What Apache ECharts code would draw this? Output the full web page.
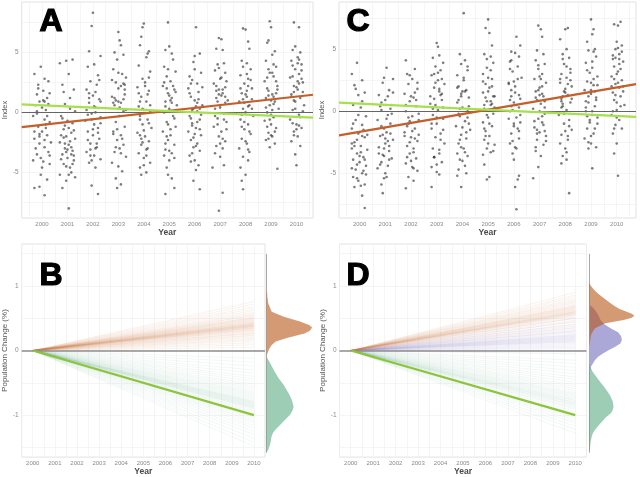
<!DOCTYPE html>
<html>
<head>
<meta charset="utf-8">
<script src="https://cdn.jsdelivr.net/npm/echarts@6/dist/echarts.min.js"></script>
</head>
<body style="margin:0;background:#fff">
<div id="main" style="width:640px;height:477px"></div>
<script>
// ---- data ----
var yearTicks = [2000, 2001, 2002, 2003, 2004, 2005, 2006, 2007, 2008, 2009, 2010];
var yearGrid = [1999.5, 2000, 2000.5, 2001, 2001.5, 2002, 2002.5, 2003, 2003.5, 2004, 2004.5, 2005, 2005.5,
  2006, 2006.5, 2007, 2007.5, 2008, 2008.5, 2009, 2009.5, 2010, 2010.5];
var indexTicks = [-5, 0, 5];
var indexGrid = [-7.5, -5, -2.5, 0, 2.5, 5, 7.5];
var popTicks = [-1, 0, 1];
var popGrid = [-1.5, -1, -0.5, 0, 0.5, 1, 1.5];

// panel A : jittered index values [year, index]
var scatterA = [
  [1999.7,3.2],[1999.85,2.3],[2000.1,2.8],[2000.25,2.6],[1999.95,3.8],[1999.8,1.5],[2000.05,1.8],[2000.2,1.2],[1999.9,0.9],[2000.0,0.4],[2000.15,0.2],[1999.75,0.6],[2000.3,1.6],[1999.65,-0.3],[2000.1,-0.6],[2000.3,-0.8],[1999.85,-1.2],[2000.0,-1.6],[2000.2,-1.9],[1999.7,-2.2],[1999.9,-2.6],[2000.1,-2.9],[2000.25,-3.3],[1999.8,-3.5],[1999.65,-4.0],[2000.05,-4.1],[2000.3,-4.3],[1999.95,-5.2],[2000.2,-5.6],[1999.7,-6.3],[1999.9,-6.2],[2000.1,-6.9],[2000.15,-1.3],[1999.8,-0.1],[2000.35,-2.5],
  [1999.8,0.1],[2000.05,1.0],[2000.2,-0.3],[1999.9,-1.8],[2000.1,-2.3],[1999.75,-3.0],[2000.25,0.7],[1999.95,-3.8],[2000.15,-1.0],[1999.85,2.0],[2000.0,-4.6],[1999.7,-1.6],[2000.3,-3.6],[2000.1,0.9],[1999.9,-2.0],
  [2000.7,4.1],[2000.95,4.3],[2001.2,4.4],[2001.05,3.2],[2000.8,2.3],[2001.25,1.9],[2001.1,1.2],[2000.9,0.7],[2001.3,0.1],[2000.75,-0.3],[2001.0,-0.7],[2001.2,-0.9],[2000.85,-1.4],[2001.15,-1.7],[2000.95,-2.0],[2001.3,-2.2],[2000.7,-2.5],[2001.05,-2.7],[2000.9,-3.0],[2001.2,-3.2],[2000.8,-3.5],[2001.0,-3.8],[2001.25,-4.0],[2000.85,-4.3],[2001.1,-4.6],[2000.7,-5.2],[2001.15,-5.0],[2000.95,-5.7],[2001.3,-5.4],[2000.8,-6.3],[2001.05,-8.0],[2001.1,-2.4],[2000.9,-1.1],[2001.25,-3.6],[2000.75,-1.9],
  [2000.85,-2.1],[2001.15,-2.9],[2000.95,-3.3],[2001.05,-1.3],[2000.75,-3.9],[2001.2,-4.3],[2000.9,-2.6],[2001.1,0.3],[2000.8,-0.5],[2001.0,-3.1],[2001.25,-1.5],[2000.95,-4.5],[2001.15,-3.5],[2000.85,1.7],[2001.05,-5.2],
  [2002.0,8.3],[2001.95,7.2],[2001.85,5.1],[2002.3,4.7],[2001.8,3.8],[2002.05,4.0],[2002.2,3.1],[2001.9,2.6],[2002.15,2.3],[2001.75,1.9],[2002.0,1.4],[2002.25,1.1],[2001.85,0.8],[2002.1,0.4],[2001.95,-0.1],[2002.3,-0.4],[2001.7,-0.7],[2002.05,-1.0],[2002.2,-1.3],[2001.8,-1.6],[2002.0,-1.9],[2002.25,-2.2],[2001.9,-2.6],[2002.15,-2.9],[2001.75,-3.3],[2002.05,-3.6],[2002.3,-3.9],[2001.85,-4.2],[2002.1,-4.6],[2001.95,-6.1],[2002.2,-6.8],[2002.1,1.7],[2001.8,-0.2],[2002.3,0.9],[2001.9,-3.1],
  [2001.85,1.2],[2002.05,0.5],[2001.95,-0.6],[2002.2,-1.7],[2001.8,-2.3],[2002.1,-3.0],[2001.9,-3.6],[2002.25,2.7],[2001.75,0.2],[2002.0,-1.4],[2002.15,-2.6],[2001.85,1.6],[2002.3,-0.9],[2001.95,-4.0],[2002.1,0.0],
  [2003.0,6.7],[2003.05,6.0],[2003.1,5.6],[2002.85,5.0],[2003.2,4.8],[2002.95,4.4],[2002.8,3.6],[2003.15,3.2],[2003.3,2.9],[2002.9,2.5],[2003.1,2.2],[2003.25,1.9],[2002.75,1.3],[2003.0,0.9],[2003.2,1.1],[2002.85,0.6],[2003.3,0.2],[2003.05,-0.3],[2002.9,-0.8],[2003.25,-1.2],[2002.8,-1.6],[2003.1,-1.9],[2002.95,-2.3],[2003.2,-2.7],[2003.05,-3.0],[2002.85,-3.3],[2003.3,-3.7],[2002.75,-4.2],[2003.0,-4.5],[2003.15,-4.9],[2002.9,-5.5],[2003.1,-6.0],[2002.95,-6.3],[2003.25,2.3],[2002.8,0.8],
  [2002.9,1.0],[2003.1,0.8],[2002.85,1.2],[2003.2,2.4],[2003.0,2.0],[2002.8,-1.8],[2003.15,-2.2],[2002.95,-1.4],[2003.25,1.5],[2003.05,0.4],[2002.75,2.7],[2003.1,-3.4],[2002.9,-2.9],[2003.2,0.1],[2003.0,3.3],
  [2004.0,7.4],[2003.95,7.1],[2003.9,6.3],[2003.85,5.6],[2004.2,5.1],[2004.15,4.9],[2004.1,4.6],[2003.8,3.9],[2004.25,3.4],[2003.95,2.8],[2004.05,2.5],[2003.75,2.1],[2004.2,1.8],[2003.9,1.3],[2004.1,0.9],[2003.8,0.5],[2004.0,0.2],[2004.25,0.1],[2003.85,-0.3],[2004.15,-0.6],[2003.95,-1.0],[2004.3,-1.3],[2003.75,-1.7],[2004.05,-2.0],[2004.2,-2.4],[2003.9,-2.7],[2004.1,-3.1],[2003.8,-3.4],[2004.0,-3.8],[2004.25,-4.2],[2003.85,-4.6],[2004.1,-5.0],[2003.9,-5.2],[2004.15,1.5],[2003.85,-1.9],
  [2003.95,0.3],[2004.1,0.2],[2003.85,0.9],[2004.2,-0.9],[2004.0,-1.5],[2003.9,-2.2],[2004.15,-3.0],[2003.8,1.6],[2004.05,2.2],[2004.25,0.6],[2003.95,-2.5],[2004.1,-3.6],[2003.85,-0.6],[2004.2,2.9],[2004.0,-4.4],
  [2004.95,7.5],[2005.0,5.5],[2004.85,5.2],[2005.1,4.9],[2005.15,4.4],[2004.8,3.8],[2005.25,3.4],[2004.9,3.0],[2005.05,2.6],[2004.75,2.2],[2005.2,1.9],[2004.95,1.6],[2005.1,1.2],[2004.85,0.9],[2005.3,0.6],[2005.0,0.3],[2004.8,0.0],[2005.15,-0.3],[2004.9,-0.8],[2005.25,-1.2],[2004.75,-1.6],[2005.05,-1.9],[2004.95,-2.3],[2005.2,-2.7],[2004.85,-3.1],[2005.1,-3.4],[2004.8,-3.6],[2005.0,-4.0],[2004.9,-4.6],[2004.95,-5.2],[2005.1,-5.5],[2004.85,-6.8],[2005.2,-6.3],[2005.05,1.0],[2004.9,2.0],
  [2005.0,1.4],[2004.85,0.5],[2005.1,0.8],[2005.2,-0.5],[2004.95,-1.0],[2005.05,-1.4],[2004.8,2.5],[2005.15,2.2],[2004.9,-2.0],[2005.25,1.7],[2005.0,-3.2],[2004.85,-2.6],[2005.1,0.1],[2004.95,3.6],[2005.2,-3.8],
  [2006.05,7.1],[2006.0,4.7],[2006.2,4.9],[2005.95,4.2],[2005.8,3.0],[2006.25,3.3],[2005.9,2.7],[2006.1,2.4],[2005.75,2.0],[2006.15,1.7],[2005.85,1.3],[2006.0,1.0],[2006.3,0.6],[2005.95,0.3],[2006.1,0.1],[2005.8,-0.3],[2006.2,-0.6],[2005.9,-0.9],[2006.05,-1.3],[2005.75,-1.6],[2006.25,-1.9],[2005.85,-2.3],[2006.1,-2.6],[2005.95,-2.9],[2006.2,-3.2],[2005.8,-3.6],[2006.0,-4.0],[2006.15,-4.4],[2005.85,-4.1],[2006.05,-4.8],[2005.95,-5.7],[2006.2,-6.4],[2006.1,0.8],[2005.9,-1.1],[2006.3,2.1],
  [2005.9,0.2],[2006.05,0.5],[2006.2,0.3],[2005.85,-0.5],[2006.1,-0.8],[2006.0,-1.8],[2005.8,1.6],[2006.15,1.1],[2005.95,-2.1],[2006.25,-0.2],[2006.05,-2.8],[2005.85,2.4],[2006.2,-1.4],[2005.9,-3.4],[2006.0,3.6],
  [2006.95,6.2],[2007.05,6.1],[2006.85,5.3],[2007.1,5.2],[2006.9,4.0],[2007.15,4.1],[2006.8,3.5],[2007.2,3.3],[2007.0,2.8],[2006.75,2.4],[2007.25,2.6],[2006.95,1.9],[2007.1,1.6],[2006.85,1.2],[2007.3,1.0],[2007.0,0.6],[2006.8,0.3],[2007.15,-0.1],[2006.9,-0.5],[2007.25,-0.8],[2006.75,-1.2],[2007.05,-1.6],[2006.95,-2.0],[2007.2,-2.4],[2006.85,-2.8],[2007.1,-3.0],[2006.8,-3.4],[2007.0,-3.7],[2007.15,-4.4],[2006.7,-4.6],[2007.1,-6.7],[2006.95,-8.2],[2007.05,1.4],[2006.9,0.9],[2007.2,2.1],
  [2006.95,1.5],[2007.1,1.9],[2006.85,2.2],[2007.2,0.8],[2007.0,0.4],[2006.8,-0.3],[2007.15,-0.6],[2006.9,-1.0],[2007.05,2.9],[2007.25,-1.4],[2006.95,3.7],[2007.1,-2.2],[2006.85,1.8],[2007.0,-2.6],[2007.2,1.3],
  [2008.0,6.9],[2007.9,7.0],[2008.1,5.9],[2008.15,5.3],[2007.85,4.3],[2008.05,4.1],[2008.2,3.6],[2007.8,3.1],[2008.1,2.8],[2007.95,2.4],[2008.25,2.0],[2007.85,1.6],[2008.05,1.3],[2007.75,0.9],[2008.15,0.6],[2007.9,0.3],[2008.0,0.0],[2008.3,-0.3],[2007.8,-0.6],[2008.1,-1.0],[2007.95,-1.4],[2008.2,-1.8],[2007.85,-2.2],[2008.05,-2.6],[2007.75,-3.0],[2008.15,-3.3],[2007.9,-3.7],[2008.1,-4.0],[2007.8,-4.6],[2008.0,-5.2],[2007.85,-5.7],[2007.9,-6.4],[2008.25,1.1],[2007.95,0.8],[2008.1,2.2],
  [2008.0,1.5],[2007.9,1.1],[2008.1,0.5],[2007.85,-0.2],[2008.2,2.7],[2008.05,3.2],[2007.95,-0.8],[2008.15,-1.6],[2007.8,2.0],[2008.0,-2.4],[2008.25,0.3],[2007.9,3.8],[2008.1,-3.1],[2007.85,-1.2],[2008.05,1.8],
  [2008.95,7.6],[2009.0,7.1],[2008.9,6.0],[2008.85,5.8],[2009.15,5.1],[2009.05,4.8],[2008.8,4.3],[2009.2,3.8],[2008.95,3.3],[2009.1,3.0],[2008.75,2.6],[2009.25,2.2],[2008.9,1.8],[2009.05,1.5],[2008.8,1.2],[2009.15,0.9],[2008.95,0.6],[2009.3,0.3],[2008.85,0.0],[2009.1,-0.4],[2008.75,-0.7],[2009.0,-1.0],[2009.2,-1.3],[2008.9,-1.7],[2009.05,-2.0],[2008.8,-2.3],[2009.15,-2.6],[2008.95,-2.9],[2009.25,-4.7],[2009.1,1.3],[2008.85,2.9],[2009.0,-0.2],[2009.2,1.6],[2008.9,3.6],
  [2009.0,1.0],[2008.9,1.4],[2009.1,0.7],[2008.85,2.0],[2009.2,2.6],[2009.05,3.3],[2008.95,-0.6],[2009.15,-1.6],[2008.8,0.4],[2009.0,-1.9],[2009.25,1.9],[2008.9,-2.2],[2009.1,4.0],[2008.85,-1.2],[2009.05,0.2],
  [2009.9,7.5],[2010.1,7.1],[2009.95,5.5],[2009.85,5.2],[2010.15,5.0],[2010.05,4.6],[2009.8,4.3],[2010.2,4.0],[2009.95,3.6],[2010.1,3.2],[2009.75,2.9],[2010.25,2.5],[2009.9,2.2],[2010.05,1.9],[2009.8,1.5],[2010.15,1.2],[2009.95,0.9],[2010.3,0.6],[2009.85,0.2],[2010.1,-0.2],[2009.75,-0.6],[2010.0,-1.0],[2010.2,-1.3],[2009.9,-1.6],[2010.05,-2.0],[2009.8,-2.4],[2010.15,-2.8],[2009.95,-3.5],[2010.0,-4.4],[2010.2,2.8],[2009.9,1.0],[2010.1,-1.1],[2009.85,3.9],[2010.25,1.7],
  [2010.0,2.1],[2009.9,1.7],[2010.1,2.4],[2009.85,3.0],[2010.2,3.5],[2010.05,4.1],[2009.95,0.3],[2010.15,-0.4],[2009.8,1.3],[2010.0,-1.4],[2010.25,0.1],[2009.9,-1.9],[2010.1,4.4],[2009.85,-0.9],[2010.05,2.6]
];

// panel C
var scatterC = [
  [1999.7,3.0],[1999.9,3.9],[2000.1,2.5],[1999.8,2.1],[2000.2,1.5],[1999.95,1.3],[1999.75,0.5],[2000.05,0.3],[2000.25,-0.4],[1999.85,-0.7],[2000.1,-1.1],[1999.7,-1.4],[1999.95,-1.8],[2000.2,-2.1],[1999.8,-2.5],[2000.05,-2.8],[1999.7,-3.0],[2000.3,-3.1],[1999.9,-3.4],[2000.15,-3.7],[1999.75,-3.9],[2000.0,-4.1],[2000.25,-4.4],[1999.85,-4.7],[2000.1,-5.0],[1999.75,-5.3],[1999.95,-5.6],[2000.2,-5.9],[1999.8,-6.1],[2000.05,-6.0],[2000.1,-6.8],[2000.2,-7.8],[1999.9,-2.3],[2000.15,-1.5],[1999.7,-4.6],
  [1999.8,-2.8],[2000.05,-3.3],[2000.2,-3.9],[1999.9,-4.3],[2000.1,-2.0],[1999.75,-1.0],[2000.25,-5.1],[1999.95,-0.3],[2000.15,-4.8],[1999.85,1.8],[2000.0,-3.6],[1999.7,-2.6],[2000.3,-1.9],[2000.1,0.8],[1999.9,-5.4],
  [2001.05,3.5],[2001.3,2.6],[2000.9,2.3],[2001.15,1.7],[2000.75,1.3],[2001.0,0.9],[2001.25,0.5],[2000.85,0.1],[2001.1,-0.3],[2000.7,-0.7],[2001.2,-1.0],[2000.95,-1.4],[2001.05,-1.7],[2000.8,-2.0],[2001.3,-2.3],[2001.0,-2.6],[2000.75,-2.9],[2001.15,-3.2],[2000.9,-3.5],[2001.25,-3.8],[2000.85,-4.1],[2001.1,-4.4],[2000.7,-4.6],[2001.0,-5.0],[2000.95,-5.4],[2000.85,-5.9],[2000.9,-6.6],[2001.2,-1.8],[2000.8,0.4],[2001.1,-2.4],[2000.95,-3.6],[2001.3,1.5],
  [2000.85,-1.2],[2001.15,-2.8],[2000.95,-3.0],[2001.05,-0.6],[2000.75,-3.4],[2001.2,0.2],[2000.9,-1.9],[2001.1,1.2],[2000.8,-4.3],[2001.0,-2.2],[2001.25,-0.2],[2000.95,2.7],[2001.15,-3.9],[2000.85,0.7],[2001.05,-5.3],
  [2001.8,4.1],[2001.85,3.0],[2002.15,3.4],[2002.05,2.6],[2001.9,2.2],[2002.25,1.8],[2001.75,1.4],[2002.1,1.1],[2001.95,0.8],[2002.2,0.4],[2001.8,0.0],[2002.05,-0.4],[2002.3,-0.7],[2001.9,-1.0],[2002.15,-1.4],[2001.75,-1.7],[2002.0,-2.1],[2002.25,-2.4],[2001.85,-2.8],[2002.1,-3.0],[2001.95,-3.4],[2002.2,-3.8],[2001.8,-4.2],[2002.05,-4.5],[2002.25,-4.8],[2001.9,-5.3],[2002.1,-5.6],[2001.8,-6.2],[2002.15,-2.2],[2001.95,-0.8],[2002.3,-1.9],[2002.0,1.2],
  [2001.85,-1.2],[2002.05,-1.6],[2001.95,-2.5],[2002.2,0.9],[2001.8,0.5],[2002.1,-3.3],[2001.9,-0.5],[2002.25,2.3],[2001.75,-2.0],[2002.0,-4.0],[2002.15,1.5],[2001.85,-3.7],[2002.3,-0.2],[2001.95,2.9],[2002.1,-4.6],
  [2003.0,5.5],[2003.05,5.2],[2003.1,4.5],[2002.85,4.3],[2003.25,3.9],[2002.95,3.6],[2003.15,3.3],[2002.8,2.9],[2003.05,2.5],[2003.3,2.2],[2002.9,1.9],[2003.1,1.6],[2002.75,1.2],[2003.2,0.9],[2002.95,0.5],[2003.05,0.1],[2002.85,-0.3],[2003.25,-0.6],[2003.0,-1.0],[2002.8,-1.4],[2003.15,-1.8],[2002.95,-2.1],[2003.3,-2.6],[2002.85,-3.0],[2003.1,-3.4],[2002.9,-3.7],[2003.2,-4.1],[2002.8,-4.5],[2003.0,-4.9],[2003.1,-5.1],[2002.8,-6.1],[2003.15,1.3],[2002.9,3.0],[2003.25,0.3],
  [2002.9,1.0],[2003.1,1.8],[2002.85,0.2],[2003.2,2.6],[2003.0,-0.5],[2002.8,-1.0],[2003.15,-2.3],[2002.95,2.3],[2003.25,-1.5],[2003.05,3.1],[2002.75,0.6],[2003.1,-3.1],[2002.9,-3.7],[2003.2,1.4],[2003.0,-4.3],
  [2004.05,7.9],[2003.9,4.6],[2004.1,4.1],[2003.95,3.8],[2004.2,3.3],[2003.8,2.9],[2004.05,2.5],[2003.85,2.0],[2004.15,1.7],[2003.95,1.4],[2004.25,1.1],[2003.8,0.7],[2004.0,0.3],[2004.2,0.0],[2003.9,-0.4],[2004.1,-0.8],[2003.75,-1.2],[2004.3,-1.5],[2003.95,-1.9],[2004.15,-2.2],[2003.85,-2.6],[2004.05,-3.0],[2003.8,-3.4],[2004.2,-3.6],[2003.9,-3.9],[2004.1,-4.4],[2003.85,-4.7],[2004.15,-5.0],[2003.8,-5.2],[2003.95,-6.1],[2004.0,1.6],[2004.25,-1.0],[2003.9,0.2],
  [2003.95,1.2],[2004.1,1.6],[2003.85,0.9],[2004.2,-0.5],[2004.0,-1.3],[2003.9,-2.3],[2004.15,-1.7],[2003.8,1.9],[2004.05,2.7],[2004.25,0.4],[2003.95,-2.9],[2004.1,-3.3],[2003.85,-0.2],[2004.2,3.6],[2004.0,-4.0],
  [2005.0,7.4],[2004.9,6.7],[2005.05,6.3],[2005.15,5.3],[2004.85,4.6],[2005.1,4.4],[2005.2,3.9],[2004.95,3.5],[2004.8,3.0],[2005.15,2.6],[2004.9,2.2],[2005.05,1.9],[2004.8,1.5],[2005.25,1.2],[2004.95,0.8],[2005.1,0.5],[2004.85,0.2],[2005.2,-0.2],[2005.0,-0.5],[2004.8,-0.9],[2005.15,-1.2],[2004.9,-1.6],[2005.05,-2.0],[2004.85,-2.3],[2005.25,-2.7],[2004.95,-3.0],[2005.1,-3.3],[2004.8,-3.5],[2004.85,-4.3],[2005.05,-5.3],[2004.95,-5.5],[2005.15,0.6],[2004.9,1.1],[2005.0,2.7],
  [2005.0,1.6],[2004.85,0.5],[2005.1,0.8],[2005.2,1.2],[2004.95,-0.3],[2005.05,-1.0],[2004.8,2.4],[2005.15,2.0],[2004.9,-2.0],[2005.25,0.3],[2005.0,-2.6],[2004.85,-1.4],[2005.1,3.3],[2004.95,4.2],[2005.2,-3.2],
  [2006.1,6.0],[2006.25,5.3],[2005.9,4.8],[2006.05,4.7],[2006.2,4.4],[2005.85,4.0],[2006.15,3.6],[2005.95,3.2],[2006.3,2.7],[2005.8,2.3],[2006.05,2.0],[2005.9,1.7],[2006.2,1.3],[2005.85,0.9],[2006.1,0.5],[2005.95,0.1],[2006.25,-0.3],[2005.8,-0.6],[2006.0,-1.0],[2006.15,-1.4],[2005.9,-1.8],[2006.2,-2.2],[2005.85,-2.6],[2006.1,-3.0],[2005.95,-3.4],[2006.0,-3.9],[2006.2,-5.2],[2006.15,-5.5],[2006.05,-6.1],[2006.1,-7.9],[2005.9,0.4],[2006.25,1.0],[2006.0,2.4],
  [2005.9,1.2],[2006.05,1.5],[2006.2,0.3],[2005.85,0.0],[2006.1,-0.5],[2006.0,-1.2],[2005.8,2.2],[2006.15,2.6],[2005.95,-2.4],[2006.25,-0.9],[2006.05,-2.9],[2005.85,3.4],[2006.2,-1.6],[2005.9,4.1],[2006.0,0.7],
  [2006.95,6.9],[2007.05,6.6],[2007.1,6.0],[2006.9,4.9],[2007.15,4.6],[2006.85,4.1],[2007.2,3.8],[2006.95,3.4],[2007.1,3.0],[2006.8,2.6],[2007.25,2.3],[2007.0,1.9],[2006.85,1.6],[2007.15,1.2],[2006.9,0.9],[2007.05,0.6],[2006.75,0.2],[2007.2,-0.2],[2006.95,-0.6],[2007.1,-0.9],[2006.8,-1.3],[2007.0,-1.7],[2007.25,-2.0],[2006.9,-2.3],[2007.15,-2.7],[2006.85,-3.2],[2007.05,-3.6],[2006.95,-4.5],[2006.75,-5.4],[2007.1,1.4],[2006.9,-1.5],[2007.2,0.3],[2007.0,2.8],
  [2006.95,1.7],[2007.1,2.0],[2006.85,1.1],[2007.2,0.8],[2007.0,0.0],[2006.8,-0.8],[2007.15,-1.1],[2006.9,-1.8],[2007.05,2.6],[2007.25,-2.4],[2006.95,3.7],[2007.1,-0.4],[2006.85,-2.9],[2007.0,1.3],[2007.2,-1.6],
  [2008.0,6.6],[2007.8,5.8],[2008.1,6.7],[2008.05,5.0],[2007.9,4.6],[2008.15,4.3],[2007.95,3.8],[2008.2,3.4],[2007.85,3.0],[2008.05,2.7],[2007.8,2.3],[2008.25,2.0],[2007.95,1.6],[2008.1,1.3],[2007.85,1.0],[2008.2,0.7],[2007.9,0.4],[2008.05,0.1],[2007.75,-0.3],[2008.15,-0.7],[2007.95,-1.0],[2008.25,-1.5],[2007.85,-1.9],[2008.1,-2.3],[2007.8,-2.6],[2008.0,-3.0],[2007.9,-3.6],[2008.05,-3.9],[2007.85,-4.2],[2008.15,-6.6],[2008.0,1.8],[2007.9,0.6],[2008.2,2.5],
  [2008.0,1.5],[2007.9,1.2],[2008.1,2.2],[2007.85,0.8],[2008.2,3.1],[2008.05,3.6],[2007.95,-0.2],[2008.15,-1.2],[2007.8,2.6],[2008.0,-1.6],[2008.25,1.0],[2007.9,4.2],[2008.1,-2.0],[2007.85,0.3],[2008.05,-3.3],
  [2009.0,7.4],[2009.1,6.6],[2009.05,6.2],[2008.85,5.6],[2009.15,5.0],[2008.9,4.9],[2009.2,4.4],[2008.8,3.9],[2009.05,3.5],[2008.95,3.1],[2009.25,2.8],[2008.85,2.4],[2009.1,2.1],[2008.75,1.7],[2009.0,1.4],[2009.2,1.1],[2008.9,0.7],[2009.15,0.4],[2008.8,0.0],[2009.05,-0.3],[2008.95,-0.7],[2009.25,-1.0],[2008.85,-1.4],[2009.1,-1.8],[2008.75,-2.2],[2009.0,-2.6],[2009.2,-2.9],[2008.9,-3.0],[2009.05,-4.6],[2009.15,1.6],[2008.8,0.8],[2009.0,2.3],[2009.25,-0.5],
  [2009.0,1.7],[2008.9,1.2],[2009.1,2.6],[2008.85,3.3],[2009.2,0.9],[2009.05,4.0],[2008.95,-0.9],[2009.15,-1.4],[2008.8,0.3],[2009.0,-2.0],[2009.25,2.1],[2008.9,-2.5],[2009.1,4.8],[2008.85,-0.4],[2009.05,0.0],
  [2009.9,7.0],[2010.05,6.9],[2010.15,7.2],[2010.0,5.6],[2010.2,5.3],[2009.95,5.0],[2010.1,4.6],[2009.85,4.2],[2010.25,4.0],[2009.9,3.6],[2010.05,3.2],[2009.8,2.8],[2010.2,2.5],[2009.95,2.2],[2010.1,1.9],[2009.85,1.5],[2010.15,1.2],[2009.9,0.9],[2010.3,0.5],[2010.0,0.1],[2009.8,-0.3],[2010.1,-0.7],[2009.95,-1.1],[2010.2,-1.4],[2009.85,-1.8],[2010.0,-2.6],[2009.9,-3.4],[2010.05,-5.2],[2010.15,3.4],[2009.95,4.3],[2010.25,2.0],[2010.0,0.7],
  [2010.0,3.0],[2009.9,2.6],[2010.1,3.8],[2009.85,4.5],[2010.2,4.8],[2010.05,5.1],[2009.95,1.3],[2010.15,0.4],[2009.8,2.0],[2010.0,-0.5],[2010.25,1.6],[2009.9,-1.4],[2010.1,4.2],[2009.85,0.0],[2010.05,2.3]
];

// fitted trend lines (ends at the panel edges)
var fitOrangeA = [[1999.2, -1.22], [2010.65, 1.47]];
var fitGreenA = [[1999.2, 0.67], [2010.65, -0.44]];
var fitOrangeC = [[1999.2, -1.94], [2010.75, 2.18]];
var fitGreenC = [[1999.2, 0.70], [2010.75, -0.46]];

// population change trajectories: value reached in 2010 (all start at 0 in 2000)
var endsOrangeB = [0.05,0.09,0.12,0.15,0.17,0.19,0.21,0.23,0.24,0.26,0.27,0.28,0.3,0.31,0.32,0.33,0.34,0.35,0.35,0.36,0.37,0.37,0.38,0.38,0.39,0.39,0.4,0.4,0.41,0.41,0.42,0.43,0.43,0.44,0.45,0.46,0.47,0.48,0.49,0.5,0.51,0.52,0.54,0.55,0.57,0.59,0.62,0.65,0.68,0.72,0.76];
var endsGreenB = [-0.12,-0.18,-0.24,-0.3,-0.35,-0.4,-0.44,-0.48,-0.52,-0.55,-0.58,-0.61,-0.64,-0.66,-0.68,-0.7,-0.72,-0.74,-0.76,-0.78,-0.79,-0.8,-0.81,-0.82,-0.83,-0.84,-0.85,-0.86,-0.87,-0.88,-0.89,-0.9,-0.92,-0.94,-0.96,-0.98,-1.0,-1.03,-1.06,-1.09,-1.12,-1.16,-1.2,-1.25,-1.3,-1.36,-1.42,-1.48];
var endsOrangeD = [0.3,0.36,0.4,0.44,0.47,0.5,0.52,0.54,0.55,0.56,0.57,0.58,0.58,0.59,0.6,0.6,0.61,0.62,0.63,0.64,0.65,0.66,0.67,0.68,0.69,0.7,0.72,0.74,0.76,0.78,0.8,0.83,0.86,0.9];
var endsPurpleD = [-0.05,0.0,0.03,0.05,0.07,0.09,0.11,0.13,0.14,0.15,0.16,0.17,0.18,0.19,0.2,0.21,0.22,0.23,0.24,0.25,0.27,0.29,0.31,0.33,0.35,0.38,0.41,0.45,0.5];
var endsGreenD = [-0.15,-0.2,-0.26,-0.31,-0.36,-0.41,-0.45,-0.49,-0.53,-0.56,-0.59,-0.62,-0.65,-0.67,-0.69,-0.71,-0.73,-0.75,-0.77,-0.78,-0.8,-0.81,-0.82,-0.84,-0.85,-0.87,-0.89,-0.91,-0.94,-0.97,-1.0,-1.04,-1.08,-1.12,-1.17,-1.22,-1.28];
var targetLine = [[2000, 0], [2010, -1]];

// marginal densities [density, change]
var densOrangeB = [[0,0.95],[0.02,0.93],[0.05,0.85],[0.1,0.76],[0.2,0.7],[0.33,0.63],[1.13,0.555],[2.2,0.48],[2.8,0.43],[3.0,0.39],[2.85,0.34],[2.5,0.3],[1.33,0.23],[0.6,0.18],[0.33,0.125],[0.15,0.06],[0.05,0.0],[0,-0.03]];
var densGreenB = [[0,-0.05],[0.05,-0.075],[0.3,-0.18],[0.53,-0.28],[0.8,-0.38],[1.13,-0.48],[1.51,-0.63],[1.68,-0.72],[1.78,-0.81],[1.7,-0.87],[1.53,-0.935],[1.2,-1.01],[0.87,-1.09],[0.6,-1.15],[0.4,-1.21],[0.3,-1.28],[0.27,-1.34],[0.2,-1.4],[0.1,-1.465],[0,-1.5]];
var densOrangeD = [[0,1.06],[0.15,1.01],[0.4,0.94],[0.71,0.88],[1.27,0.78],[1.71,0.71],[2.0,0.67],[2.47,0.63],[2.8,0.6],[2.98,0.57],[2.8,0.54],[2.27,0.505],[1.05,0.455],[0.38,0.38],[0.15,0.3],[0.09,0.25],[0.03,0.15],[0,0.1]];
var densPurpleD = [[0,0.74],[0.3,0.68],[0.55,0.6],[0.75,0.5],[1.0,0.44],[1.4,0.38],[1.9,0.32],[2.1,0.26],[2.15,0.2],[2.05,0.15],[1.71,0.1],[1.3,0.05],[0.93,0],[0.6,-0.05],[0.38,-0.1],[0.11,-0.2],[0.03,-0.3],[0,-0.37]];
var densGreenD = [[0,-0.15],[0.05,-0.2],[0.22,-0.28],[0.45,-0.35],[0.71,-0.43],[0.95,-0.5],[1.2,-0.58],[1.4,-0.65],[1.55,-0.73],[1.6,-0.81],[1.55,-0.86],[1.42,-0.91],[1.1,-0.97],[0.82,-1.04],[0.58,-1.1],[0.38,-1.16],[0.22,-1.22],[0.13,-1.29],[0.08,-1.36],[0.05,-1.44],[0,-1.5]];

// ---- chart ----
var FONT = 'Liberation Sans';
var chart = echarts.init(document.getElementById('main'));

function mainX(grid, min, max, gap) {
  return {
    type: 'value', gridIndex: grid, min: min, max: max,
    name: 'Year', nameLocation: 'middle', nameGap: gap,
    nameTextStyle: { fontFamily: FONT, fontSize: 8.5, fontWeight: 'bold', color: '#4a4a4a' },
    axisLine: { show: false },
    axisTick: { show: false, customValues: yearGrid },
    axisLabel: { customValues: yearTicks, formatter: function (v) { return String(v); },
      fontFamily: FONT, fontSize: 6, color: '#8a8a8a', margin: 3 },
    splitLine: { show: true, lineStyle: { color: '#f1f1f1', width: 0.7 } }
  };
}
function mainY(grid, min, max, name, size, labels, lines) {
  return {
    type: 'value', gridIndex: grid, min: min, max: max,
    name: name, nameLocation: 'middle', nameGap: 10,
    nameTextStyle: { fontFamily: FONT, fontSize: size, color: '#555' },
    axisLine: { show: false },
    axisTick: { show: false, customValues: lines },
    axisLabel: { customValues: labels, fontFamily: FONT, fontSize: 6.5, color: '#8a8a8a', margin: 3 },
    splitLine: { show: true, lineStyle: { color: '#f1f1f1', width: 0.7 } }
  };
}
function densX(grid, max) {
  return { type: 'value', gridIndex: grid, min: 0, max: max, show: false };
}
function densY(grid) {
  return {
    type: 'value', gridIndex: grid, min: -1.5, max: 1.5,
    axisLine: { show: true, lineStyle: { color: '#a8a8a8', width: 1 } },
    axisTick: { show: false }, axisLabel: { show: false }, splitLine: { show: false }
  };
}

function scatter(ax, data) {
  return { type: 'scatter', xAxisIndex: ax, yAxisIndex: ax, data: data, symbolSize: 2.6,
    itemStyle: { color: 'rgba(30,30,30,0.72)' }, silent: true, z: 3 };
}
function fit(ax, data, color) {
  return { type: 'line', xAxisIndex: ax, yAxisIndex: ax, data: data, showSymbol: false, silent: true,
    lineStyle: { color: color, width: 2.2 }, z: 5 };
}
function zero(ax, color, width) {
  return { type: 'line', xAxisIndex: ax, yAxisIndex: ax, data: [], silent: true,
    markLine: { silent: true, symbol: 'none', label: { show: false },
      lineStyle: { color: color, width: width, type: 'solid' }, data: [{ yAxis: 0 }] }, z: 4 };
}
function fan(ax, ends, color, alpha) {
  return {
    type: 'custom', xAxisIndex: ax, yAxisIndex: ax, silent: true, z: 2,
    data: ends.map(function (e) { return [2010, e]; }),
    renderItem: function (params, api) {
      var a = api.coord([2000, 0]);
      var b = api.coord([api.value(0), api.value(1)]);
      return { type: 'line', shape: { x1: a[0], y1: a[1], x2: b[0], y2: b[1] },
        style: { stroke: color, lineWidth: 0.7, opacity: alpha } };
    }
  };
}
function density(ax, pts, color, alpha) {
  return {
    type: 'custom', xAxisIndex: ax, yAxisIndex: ax, silent: true, data: pts,
    renderItem: function (params, api) {
      if (params.dataIndex !== 0) return;
      return { type: 'polygon', shape: { points: pts.map(function (p) { return api.coord(p); }) },
        style: { fill: color, opacity: alpha } };
    }
  };
}
function letter(txt, x, y) {
  return { type: 'text', x: x, y: y, z: 100, style: { text: txt, fontFamily: FONT, fontSize: 32, fontWeight: 'bold',
    fill: '#000', stroke: '#000', lineWidth: 1.2, align: 'center', verticalAlign: 'middle' } };
}

var gridStyle = { show: true, borderColor: '#e2e2e2', borderWidth: 1, backgroundColor: '#fff' };

var option = {
  animation: false,
  grid: [
    Object.assign({ left: 17, top: 2, width: 296, height: 216 }, gridStyle),
    Object.assign({ left: 339, top: 2, width: 297, height: 216 }, gridStyle),
    Object.assign({ left: 17, top: 244, width: 248, height: 218 }, gridStyle),
    { left: 266.7, top: 254.3, width: 53, height: 198 },
    Object.assign({ left: 339.5, top: 244, width: 247, height: 218 }, gridStyle),
    { left: 589.3, top: 254.3, width: 50, height: 198 }
  ],
  xAxis: [
    mainX(0, 1999.2, 2010.65, 9),
    mainX(1, 1999.2, 2010.75, 9),
    mainX(2, 1999.5, 2010.5, 9),
    densX(3, 3.5),
    mainX(4, 1999.5, 2010.5, 9),
    densX(5, 3.3)
  ],
  yAxis: [
    mainY(0, -8.8, 9.2, 'Index', 7.5, indexTicks, indexGrid),
    mainY(1, -8.6, 8.8, 'Index', 7.5, indexTicks, indexGrid),
    mainY(2, -1.65, 1.65, 'Population Change (%)', 8, popTicks, popGrid),
    densY(3),
    mainY(4, -1.65, 1.65, 'Population Change (%)', 8, popTicks, popGrid),
    densY(5)
  ],
  graphic: [letter('A', 51, 22), letter('C', 358, 22), letter('B', 51, 276), letter('D', 358, 276)],
  series: [
    zero(0, '#666', 1.2), scatter(0, scatterA), fit(0, fitOrangeA, '#c45f2a'), fit(0, fitGreenA, '#a6e04c'),
    zero(1, '#666', 1.2), scatter(1, scatterC), fit(1, fitOrangeC, '#c45f2a'), fit(1, fitGreenC, '#a6e04c'),

    fan(2, endsGreenB, '#4f9f78', 0.11), fan(2, endsOrangeB, '#cf7a45', 0.14),
    zero(2, '#8c8c8c', 1.5), fit(2, targetLine, '#8cc43a'),
    density(3, densOrangeB, '#b75717', 0.6), density(3, densGreenB, '#3d9b6b', 0.5),

    fan(4, endsGreenD, '#4f9f78', 0.11), fan(4, endsPurpleD, '#8a84c8', 0.15), fan(4, endsOrangeD, '#cf7a45', 0.14),
    zero(4, '#8c8c8c', 1.5), fit(4, targetLine, '#8cc43a'),
    density(5, densPurpleD, '#aba7d6', 1), density(5, densOrangeD, '#b75717', 0.6), density(5, densGreenD, '#3d9b6b', 0.5)
  ]
};
chart.setOption(option);
</script>
</body>
</html>
